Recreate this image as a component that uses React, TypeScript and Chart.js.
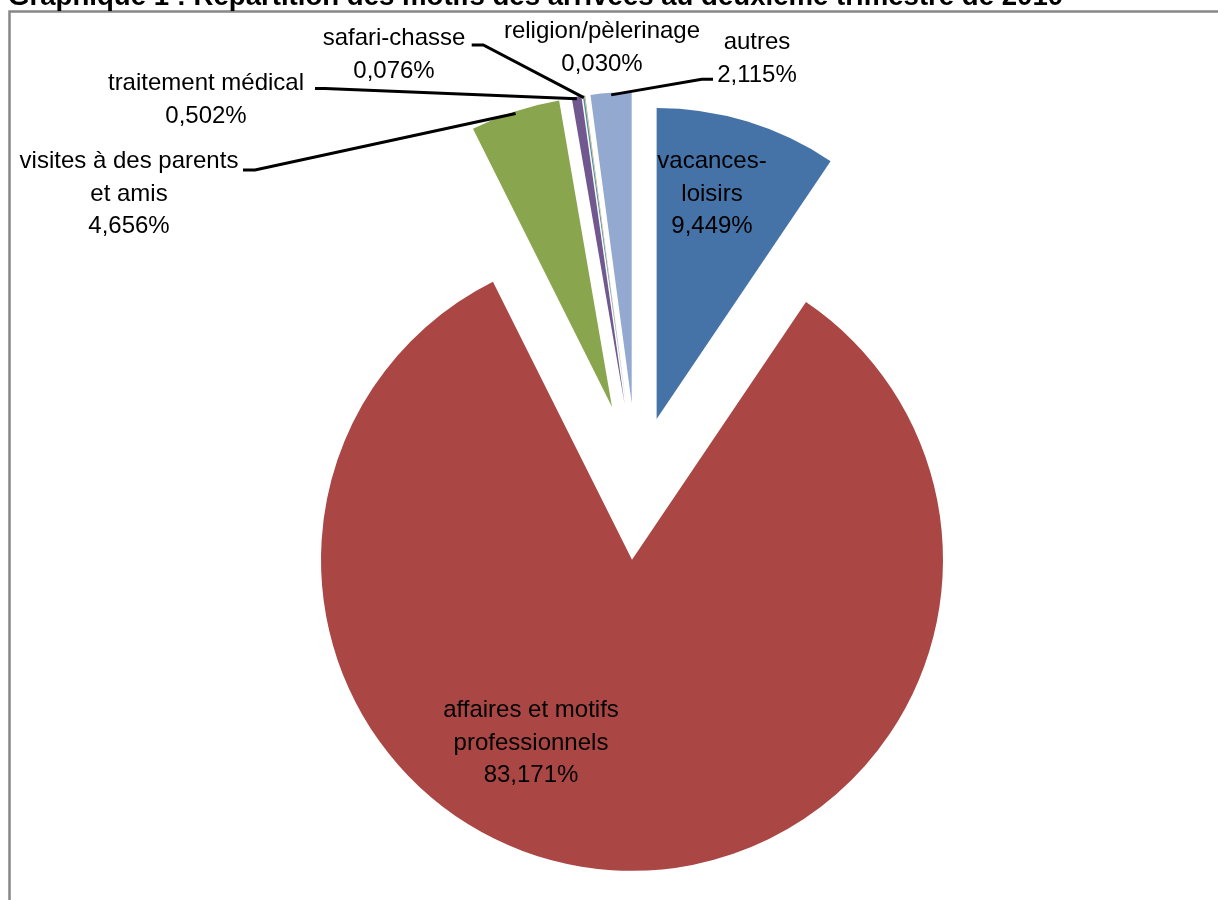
import React, { useEffect, useRef } from "react";
import { Chart, registerables } from "chart.js";

Chart.register(...registerables);

// ---- data ----
const categories = [
  "vacances-loisirs",
  "affaires et motifs professionnels",
  "visites à des parents et amis",
  "traitement médical",
  "safari-chasse",
  "religion/pèlerinage",
  "autres",
];
const shares = [9.449, 83.171, 4.656, 0.502, 0.076, 0.03, 2.115];
const colors = ["#4572A7", "#AA4643", "#89A54E", "#71588F", "#4198AF", "#DB843D", "#93A9CF"];
const title = "Graphique 1 : Répartition des motifs des arrivées au deuxième trimestre de 2010";

// ---- layout (pixels, relative to pie centre) ----
const explode = [67, 77, 80, 80, 80, 80, 80];
const labelAnchor: number[][] = [
  [75, -315],
  [-106, 234],
  [-508, -315],
  [-431, -393],
  [-243, -438],
  [-35, -444.7],
  [120, -434],
];
const wrapWidth = [130, 250, 240, 260, 200, 260, 200];
const leaderElbow: (number[] | null)[] = [null, null, [-382, -313], [-312, -394.5], [-153.7, -438], null, [64.7, -403.7]];
const leaderEnd: (number[] | null)[] = [null, null, [-394, -313], [-322, -394.5], [-165.3, -438], null, [76, -403.7]];
const LABEL_FONT = "24px 'Liberation Sans', Arial, sans-serif";
const LINE_H = 32.5;

function wrapText(ctx: CanvasRenderingContext2D, text: string, maxW: number): string[] {
  const tokens: { t: string; sp: boolean }[] = [];
  text.split(/\s+/).forEach((w, wi) => {
    w.split(/(?<=-)/).forEach((p, pi) => tokens.push({ t: p, sp: wi > 0 && pi === 0 }));
  });
  const lines: string[] = [];
  let cur = "";
  tokens.forEach((tk) => {
    const cand = cur === "" ? tk.t : cur + (tk.sp ? " " : "") + tk.t;
    if (cur !== "" && ctx.measureText(cand).width > maxW) {
      lines.push(cur);
      cur = tk.t;
    } else cur = cand;
  });
  if (cur) lines.push(cur);
  return lines;
}

const pct = (v: number) => v.toFixed(3).replace(".", ",") + "%";

const framePlugin = {
  id: "frame",
  beforeDraw(chart: any) {
    const ctx = chart.ctx as CanvasRenderingContext2D;
    ctx.save();
    ctx.fillStyle = "#ffffff";
    ctx.fillRect(0, 0, chart.width, chart.height);
    ctx.strokeStyle = "#878787";
    ctx.lineWidth = 2.5;
    ctx.strokeRect(9.5, 11.5, chart.width + 40, chart.height + 40);
    ctx.fillStyle = "#000000";
    ctx.font = "bold 27.6px 'Liberation Sans', Arial, sans-serif";
    ctx.textBaseline = "alphabetic";
    ctx.textAlign = "left";
    ctx.fillText(title, 8, 5);
    ctx.restore();
  },
};

const explodePlugin = {
  id: "explode",
  beforeDatasetDraw(chart: any, args: any) {
    const ctx = chart.ctx as CanvasRenderingContext2D;
    args.meta.data.forEach((arc: any, i: number) => {
      const mid = (arc.startAngle + arc.endAngle) / 2;
      const d = explode[i];
      ctx.save();
      ctx.translate(Math.cos(mid) * d, Math.sin(mid) * d);
      arc.draw(ctx, chart.chartArea);
      ctx.restore();
    });
    return false;
  },
};

const labelPlugin = {
  id: "sliceLabels",
  afterDatasetsDraw(chart: any) {
    const ctx = chart.ctx as CanvasRenderingContext2D;
    const meta = chart.getDatasetMeta(0);
    ctx.save();
    meta.data.forEach((arc: any, i: number) => {
      const cx = arc.x;
      const cy = arc.y;
      const mid = (arc.startAngle + arc.endAngle) / 2;
      const d = explode[i];
      const tipX = cx + Math.cos(mid) * d;
      const tipY = cy + Math.sin(mid) * d;
      const elbow = leaderElbow[i];
      const end = leaderEnd[i];
      if (elbow && end) {
        const r = arc.outerRadius - 2;
        ctx.beginPath();
        ctx.moveTo(tipX + Math.cos(mid) * r, tipY + Math.sin(mid) * r);
        ctx.lineTo(cx + elbow[0], cy + elbow[1]);
        ctx.lineTo(cx + end[0], cy + end[1]);
        ctx.strokeStyle = "#000000";
        ctx.lineWidth = 3;
        ctx.stroke();
      }
      ctx.font = LABEL_FONT;
      ctx.fillStyle = "#000000";
      ctx.textAlign = "center";
      ctx.textBaseline = "alphabetic";
      const lines = wrapText(ctx, categories[i], wrapWidth[i]).concat([pct(shares[i])]);
      const [ax, ay] = labelAnchor[i];
      lines.forEach((ln, k) => ctx.fillText(ln, cx + ax, cy + ay + k * LINE_H));
    });
    ctx.restore();
  },
};

export default function App() {
  const ref = useRef<HTMLCanvasElement | null>(null);
  useEffect(() => {
    if (!ref.current) return;
    const chart = new Chart(ref.current, {
      type: "pie",
      data: {
        labels: categories,
        datasets: [
          {
            data: shares,
            backgroundColor: colors,
            borderWidth: 0,
            radius: 311,
          } as any,
        ],
      },
      options: {
        responsive: false,
        animation: false,
        events: [],
        layout: { padding: { left: 56, right: 0, top: 66, bottom: 0 } },
        plugins: {
          legend: { display: false },
          tooltip: { enabled: false },
          title: { display: false },
        },
      } as any,
      plugins: [framePlugin, explodePlugin, labelPlugin],
    });
    return () => chart.destroy();
  }, []);
  return (
    <div style={{ position: "absolute", left: 0, top: 0, width: 1218, height: 900, overflow: "hidden" }}>
      <canvas ref={ref} width={1218} height={900} style={{ display: "block", width: 1218, height: 900 }} />
    </div>
  );
}
